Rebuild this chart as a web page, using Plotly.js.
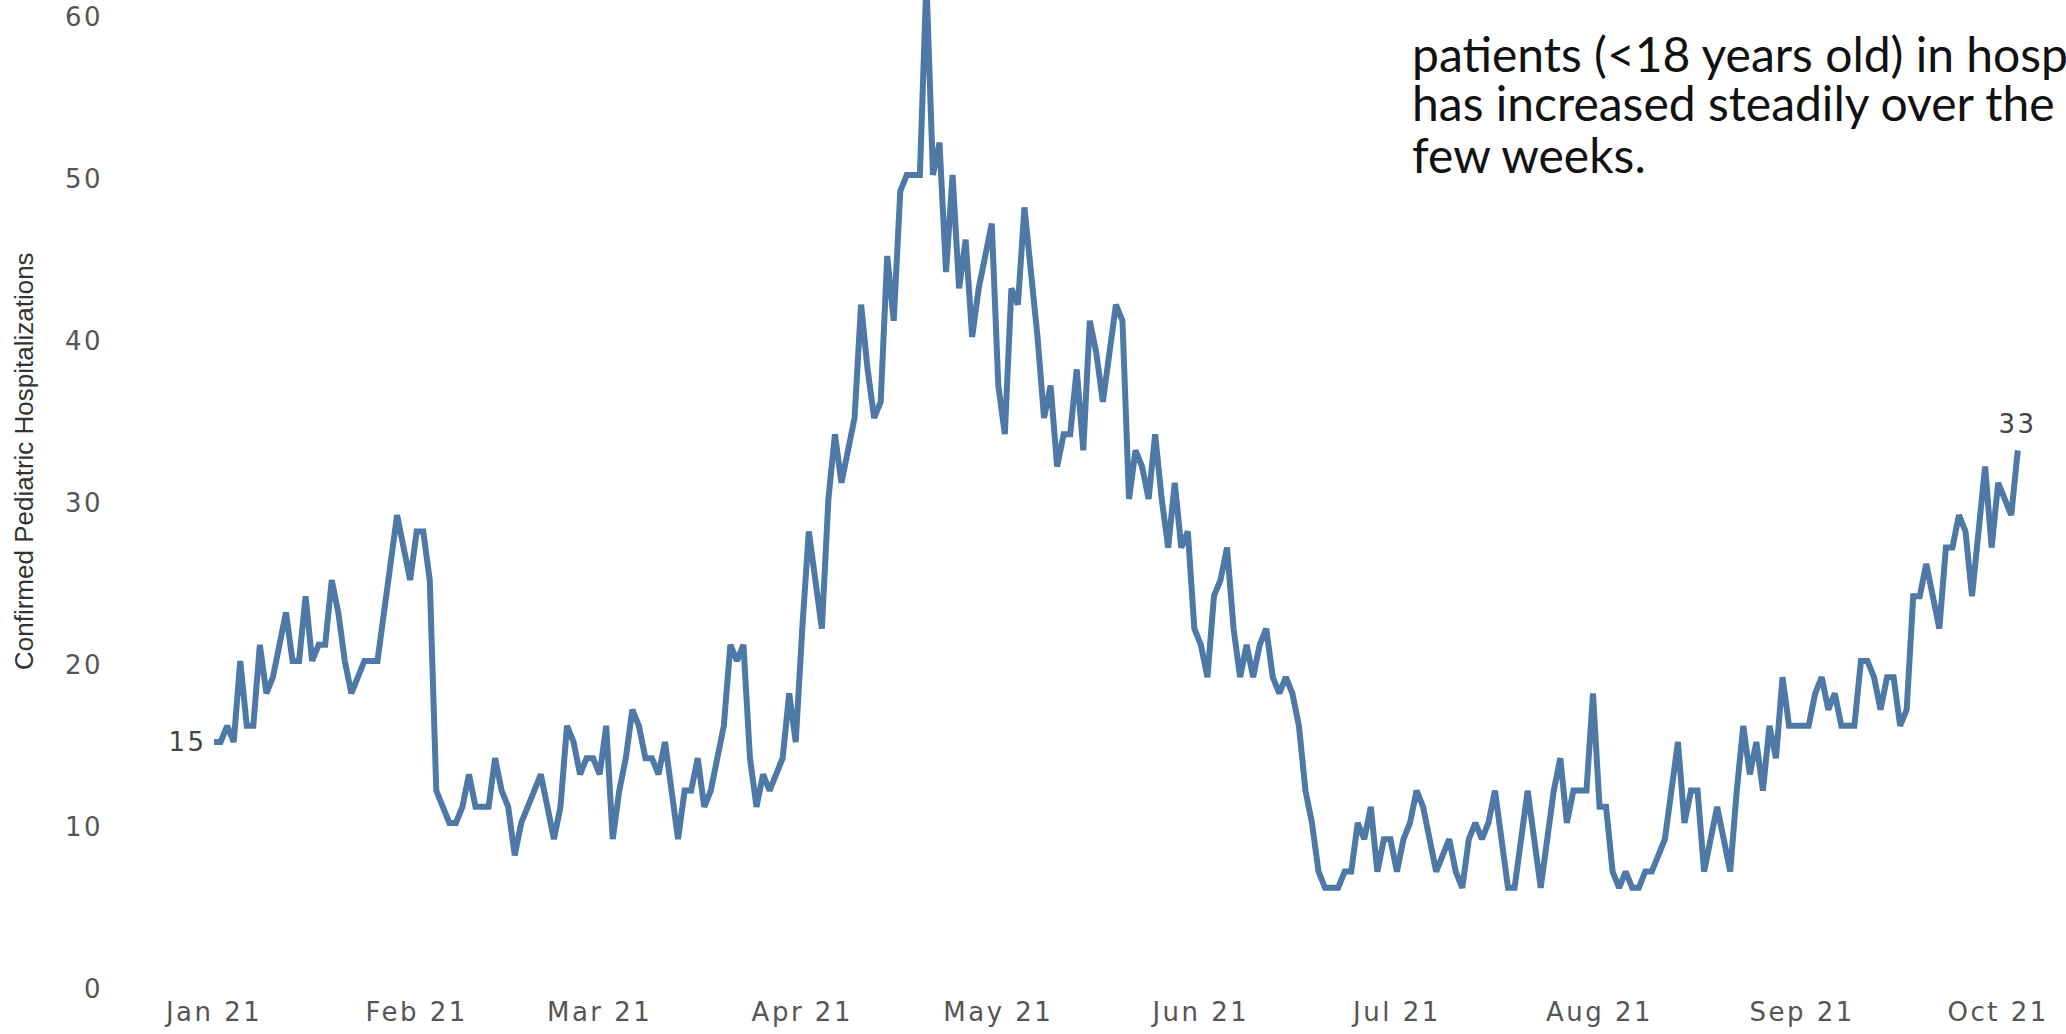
<!DOCTYPE html>
<html>
<head>
<meta charset="utf-8">
<script src="https://cdn.plot.ly/plotly-3.0.1.min.js"></script>
<style>
  html, body { margin: 0; padding: 0; background: #ffffff; overflow: hidden; }
  #chart { width: 2066px; height: 1034px; }
  /* Wide, airy numerals for the axis ticks and the end-point value labels */
  #chart .xtick text, #chart .ytick text,
  #chart g.annotation[data-index="0"] text,
  #chart g.annotation[data-index="1"] text { letter-spacing: 2.5px; }
</style>
</head>
<body>
<div id="chart"></div>
<script>
// Daily confirmed pediatric COVID-19 hospitalizations, one value per day from the start date.
const startDate = '2021-01-01';
const hospitalizations = [
  15, 15, 16, 15, 20, 16, 16, 21, 18, 19,
  21, 23, 20, 20, 24, 20, 21, 21, 25, 23,
  20, 18, 19, 20, 20, 20, 23, 26, 29, 27,
  25, 28, 28, 25, 12, 11, 10, 10, 11, 13,
  11, 11, 11, 14, 12, 11, 8, 10, 11, 12,
  13, 11, 9, 11, 16, 15, 13, 14, 14, 13,
  16, 9, 12, 14, 17, 16, 14, 14, 13, 15,
  12, 9, 12, 12, 14, 11, 12, 14, 16, 21,
  20, 21, 14, 11, 13, 12, 13, 14, 18, 15,
  22, 28, 25, 22, 30, 34, 31, 33, 35, 42,
  38, 35, 36, 45, 41, 49, 50, 50, 50, 62,
  50, 52, 44, 50, 43, 46, 40, 43, 45, 47,
  37, 34, 43, 42, 48, 44, 40, 35, 37, 32,
  34, 34, 38, 33, 41, 39, 36, 39, 42, 41,
  30, 33, 32, 30, 34, 30, 27, 31, 27, 28,
  22, 21, 19, 24, 25, 27, 22, 19, 21, 19,
  21, 22, 19, 18, 19, 18, 16, 12, 10, 7,
  6, 6, 6, 7, 7, 10, 9, 11, 7, 9,
  9, 7, 9, 10, 12, 11, 9, 7, 8, 9,
  7, 6, 9, 10, 9, 10, 12, 9, 6, 6,
  9, 12, 9, 6, 9, 12, 14, 10, 12, 12,
  12, 18, 11, 11, 7, 6, 7, 6, 6, 7,
  7, 8, 9, 12, 15, 10, 12, 12, 7, 9,
  11, 9, 7, 12, 16, 13, 15, 12, 16, 14,
  19, 16, 16, 16, 16, 18, 19, 17, 18, 16,
  16, 16, 20, 20, 19, 17, 19, 19, 16, 17,
  24, 24, 26, 24, 22, 27, 27, 29, 28, 24,
  28, 32, 27, 31, 30, 29, 33
];
const monthTickFormat = '%b %y';
const yTickValues = [0, 10, 20, 30, 40, 50, 60];
const yAxisTitle = 'Confirmed Pediatric Hospitalizations';
const noteLines = [
  'patients (<18 years old) in hosp',
  'has increased steadily over the',
  'few weeks.'
];

// Date string for a given whole or fractional day offset from the start date.
const startMs = Date.parse(startDate + 'T00:00:00Z');
function dayToDate(offset) {
  return new Date(startMs + offset * 86400000).toISOString().slice(0, 19).replace('T', ' ');
}
const dates = hospitalizations.map((_, i) => dayToDate(i));

const W = 2066, H = 1034;
const M = { l: 110, r: 0, t: 0, b: 49 };
const plotW = W - M.l - M.r;
const plotH = H - M.t - M.b;
const paperX = px => (px - M.l) / plotW;
const paperY = py => 1 - (py - M.t) / plotH;

const lineColor = '#4e79a7';
const tickFont = { family: 'DejaVu Sans, Verdana, sans-serif', size: 26, color: '#555555' };
const noteFont = { family: 'Lato, "Open Sans", sans-serif', size: 48, color: '#111111' };

const trace = {
  type: 'scatter',
  mode: 'lines',
  x: dates,
  y: hospitalizations,
  line: { color: lineColor, width: 6 },
  hoverinfo: 'x+y'
};

const last = hospitalizations.length - 1;
const annotations = [
  {
    x: dates[0], y: hospitalizations[0], xref: 'x', yref: 'y',
    text: String(hospitalizations[0]), showarrow: false,
    xanchor: 'right', yanchor: 'middle', xshift: -8,
    font: { family: tickFont.family, size: 26, color: '#444444' }
  },
  {
    x: dates[last], y: hospitalizations[last], xref: 'x', yref: 'y',
    text: String(hospitalizations[last]), showarrow: false,
    xanchor: 'center', yanchor: 'bottom', yshift: 9,
    font: { family: tickFont.family, size: 26, color: '#444444' }
  },
  {
    x: paperX(24), y: paperY(461), xref: 'paper', yref: 'paper',
    text: yAxisTitle, textangle: -90, showarrow: false,
    xanchor: 'center', yanchor: 'middle',
    font: { family: '"Liberation Sans", Arial, sans-serif', size: 26, color: '#333333' }
  }
];
const noteCenters = [53, 103, 154];
noteLines.forEach((line, i) => {
  annotations.push({
    x: paperX(1410), y: paperY(noteCenters[i]), xref: 'paper', yref: 'paper',
    text: line, showarrow: false, xanchor: 'left', yanchor: 'middle',
    font: noteFont
  });
});

const layout = {
  width: W, height: H,
  margin: M,
  paper_bgcolor: '#ffffff',
  plot_bgcolor: '#ffffff',
  showlegend: false,
  xaxis: {
    type: 'date',
    range: [dayToDate(-15.93), dayToDate(283.38)],
    tick0: startDate,
    dtick: 'M1',
    tickformat: monthTickFormat,
    ticks: '',
    ticklabelstandoff: 9,
    showgrid: false,
    zeroline: false,
    showline: false,
    tickfont: tickFont
  },
  yaxis: {
    range: [0, 60.8],
    tickvals: yTickValues,
    ticks: '',
    ticklabelstandoff: 6,
    ticklabelshift: 4,
    ticklabeloverflow: 'allow',
    showgrid: false,
    zeroline: false,
    showline: false,
    tickfont: tickFont
  },
  annotations: annotations
};

Plotly.newPlot('chart', [trace], layout, { displayModeBar: false, staticPlot: true });
</script>
</body>
</html>
